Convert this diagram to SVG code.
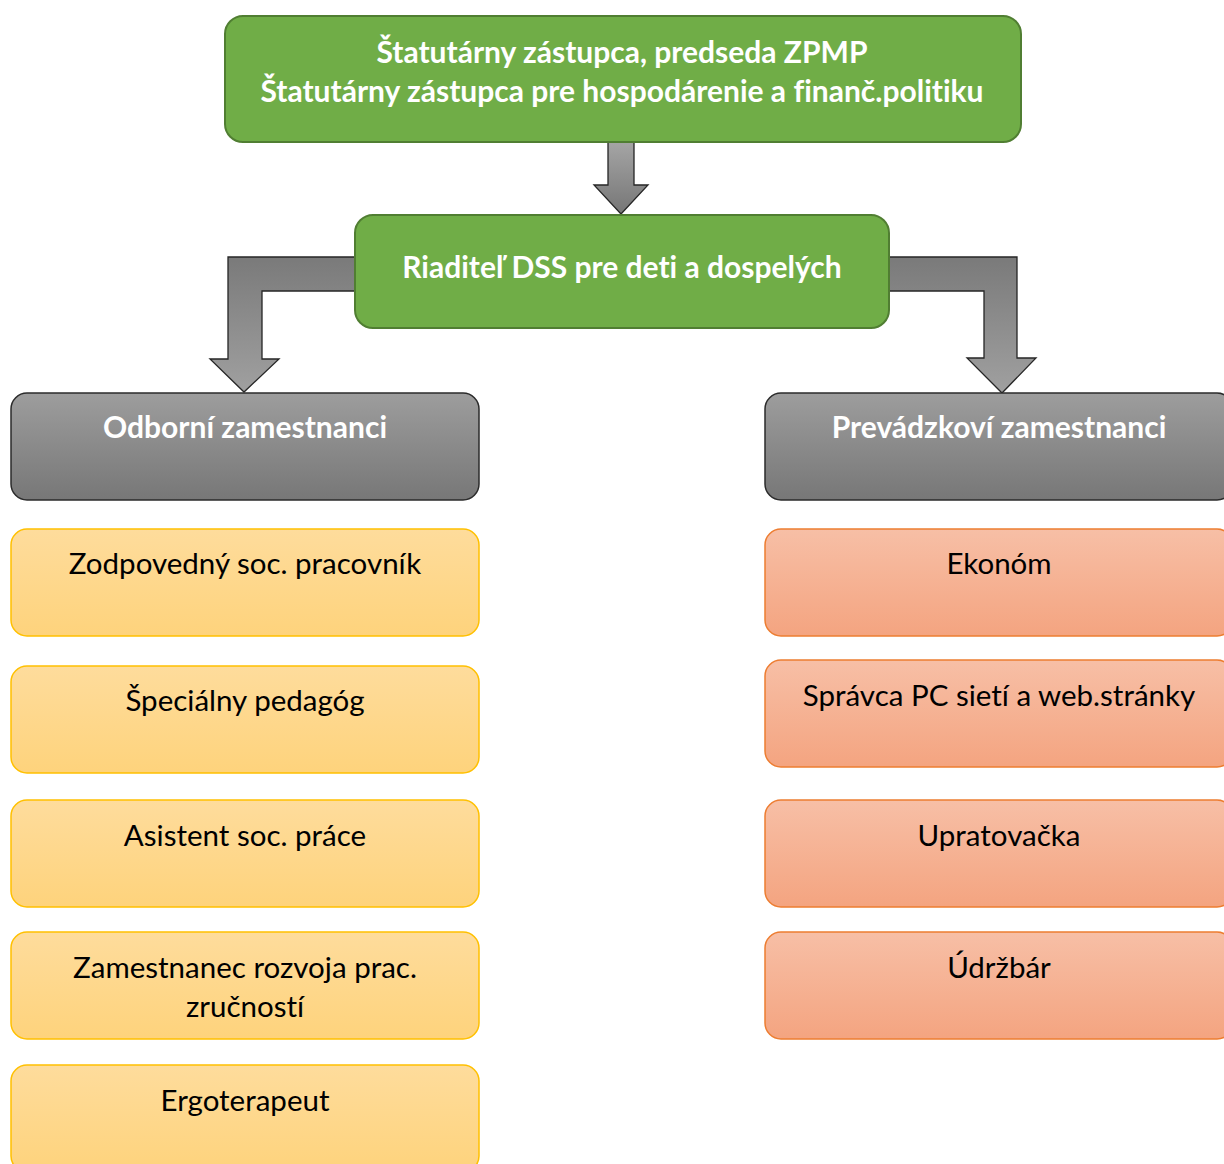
<svg xmlns="http://www.w3.org/2000/svg" width="1224" height="1164" viewBox="0 0 1224 1164">
<defs>
<linearGradient id="gGray" x1="0" y1="0" x2="0" y2="1"><stop offset="0" stop-color="#9d9d9d"/><stop offset="1" stop-color="#777777"/></linearGradient>
<linearGradient id="gYel" x1="0" y1="0" x2="0" y2="1"><stop offset="0" stop-color="#FEDC9C"/><stop offset="1" stop-color="#FED37C"/></linearGradient>
<linearGradient id="gOra" x1="0" y1="0" x2="0" y2="1"><stop offset="0" stop-color="#F7BFA6"/><stop offset="1" stop-color="#F4A480"/></linearGradient>
<linearGradient id="gArrDown" x1="0" y1="0" x2="0" y2="1"><stop offset="0" stop-color="#a5a5a5"/><stop offset="1" stop-color="#767676"/></linearGradient>
<linearGradient id="gArrBent" x1="0" y1="0" x2="0" y2="1"><stop offset="0" stop-color="#7a7a7a"/><stop offset="1" stop-color="#a0a0a0"/></linearGradient>
</defs>
<style>
.green{fill:#70AD47;stroke:#507E32;stroke-width:2}
.gray{fill:url(#gGray);stroke:#2b2b2b;stroke-width:1.5}
.yel{fill:url(#gYel);stroke:#FFC000;stroke-width:1.5}
.ora{fill:url(#gOra);stroke:#ED7D31;stroke-width:1.5}
.arr{stroke:#262626;stroke-width:1.3;stroke-linejoin:miter}
text{font-family:Lato,"Liberation Sans",sans-serif;text-anchor:middle;font-variant-ligatures:none}
.wb{fill:#ffffff;font-weight:bold;font-size:30px}
.bk{fill:#000000;font-size:29.5px}
</style>
<g id="connectors">
<path class="arr" fill="url(#gArrDown)" d="M608,142 H634 V185 H648 L621,214 L594,185 H608 Z"/>
<path class="arr" fill="url(#gArrBent)" d="M355,257 H228 V359 H210 L244,392 L279,359 H262 V291 H355 Z"/>
<path class="arr" fill="url(#gArrBent)" d="M889,257 H1017 V358 H1036 L1002,393 L967,358 H984 V291 H889 Z"/>
</g>
<g id="n-top"><rect class="green" x="225" y="16" width="796" height="126" rx="18"/>
<text class="wb" x="622" y="63">Štatutárny zástupca, predseda ZPMP</text>
<text class="wb" x="622" y="102">Štatutárny zástupca pre hospodárenie a finanč.politiku</text></g>
<g id="n-riaditel"><rect class="green" x="355" y="215" width="534" height="113" rx="18"/>
<text class="wb" x="622" y="278">Riaditeľ DSS pre deti a dospelých</text></g>
<g id="n-odborni"><rect class="gray" x="11" y="393" width="468" height="107" rx="16"/>
<text class="wb" x="245" y="438">Odborní zamestnanci</text></g>
<g id="n-prevadzkovi"><rect class="gray" x="765" y="393" width="468" height="107" rx="16"/>
<text class="wb" x="999" y="438">Prevádzkoví zamestnanci</text></g>
<g id="n-zodp"><rect class="yel" x="11" y="529" width="468" height="107" rx="16"/>
<text class="bk" x="245" y="574">Zodpovedný soc. pracovník</text></g>
<g id="n-spec"><rect class="yel" x="11" y="666" width="468" height="107" rx="16"/>
<text class="bk" x="245" y="711">Špeciálny pedagóg</text></g>
<g id="n-asist"><rect class="yel" x="11" y="800" width="468" height="107" rx="16"/>
<text class="bk" x="245" y="846">Asistent soc. práce</text></g>
<g id="n-zam"><rect class="yel" x="11" y="932" width="468" height="107" rx="16"/>
<text class="bk" x="245" y="978">Zamestnanec rozvoja prac.</text>
<text class="bk" x="245" y="1017">zručností</text></g>
<g id="n-ergo"><rect class="yel" x="11" y="1065" width="468" height="107" rx="16"/>
<text class="bk" x="245" y="1111">Ergoterapeut</text></g>
<g id="n-ekonom"><rect class="ora" x="765" y="529" width="468" height="107" rx="16"/>
<text class="bk" x="999" y="574">Ekonóm</text></g>
<g id="n-spravca"><rect class="ora" x="765" y="660" width="468" height="107" rx="16"/>
<text class="bk" x="999" y="706">Správca PC sietí a web.stránky</text></g>
<g id="n-uprat"><rect class="ora" x="765" y="800" width="468" height="107" rx="16"/>
<text class="bk" x="999" y="846">Upratovačka</text></g>
<g id="n-udrzbar"><rect class="ora" x="765" y="932" width="468" height="107" rx="16"/>
<text class="bk" x="999" y="978">Údržbár</text></g>
</svg>
